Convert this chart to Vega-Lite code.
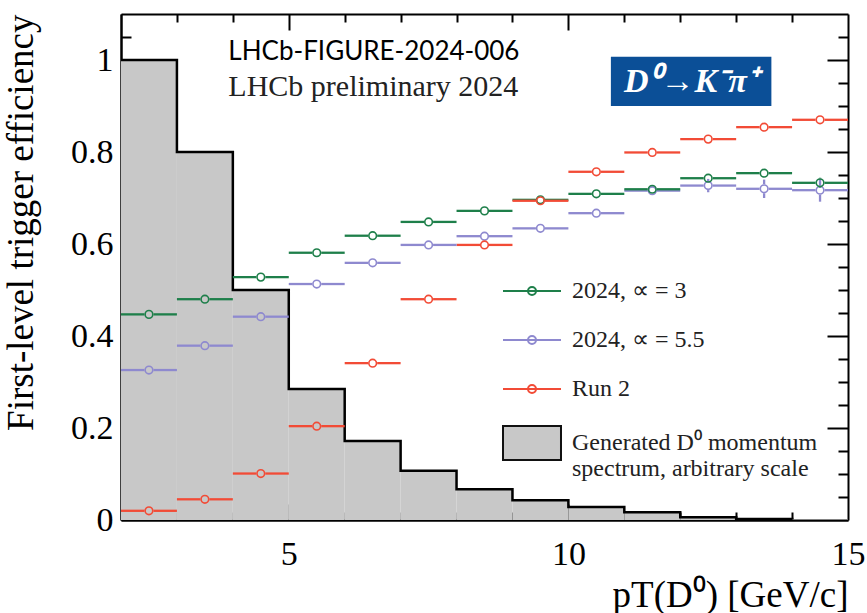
{
  "$schema": "https://vega.github.io/schema/vega-lite/v6.json",
  "width": 727,
  "height": 506,
  "autosize": {"type": "none"},
  "padding": {"left": 121, "top": 14, "right": 19, "bottom": 93},
  "background": "white",
  "config": {
    "view": {"stroke": null},
    "axis": {
      "zindex": 1,
      "domain": true,
      "domainColor": "black",
      "domainWidth": 2,
      "grid": false,
      "tickColor": "black",
      "tickWidth": 2,
      "labelFont": "Liberation Serif",
      "labelFontSize": 34,
      "labelColor": "black",
      "titleFont": "Liberation Serif",
      "titleFontSize": 37,
      "titleFontWeight": "normal",
      "titleColor": "black",
      "labelFlush": false
    },
    "legend": {
      "orient": "none",
      "legendX": 395,
      "legendY": 261,
      "direction": "vertical",
      "symbolSize": 900,
      "symbolStrokeWidth": 2,
      "labelOffset": 24,
      "labelFont": "Liberation Serif",
      "labelFontSize": 24,
      "labelColor": "#222222",
      "labelLimit": 500,
      "rowPadding": 21,
      "padding": 0
    }
  },
  "datasets": {
    "hist": [
      {"lo": 2, "hi": 3, "n": 1.0},
      {"lo": 3, "hi": 4, "n": 0.8},
      {"lo": 4, "hi": 5, "n": 0.5},
      {"lo": 5, "hi": 6, "n": 0.285},
      {"lo": 6, "hi": 7, "n": 0.172},
      {"lo": 7, "hi": 8, "n": 0.107},
      {"lo": 8, "hi": 9, "n": 0.067},
      {"lo": 9, "hi": 10, "n": 0.043},
      {"lo": 10, "hi": 11, "n": 0.028},
      {"lo": 11, "hi": 12, "n": 0.017},
      {"lo": 12, "hi": 13, "n": 0.006},
      {"lo": 13, "hi": 14, "n": 0.002},
      {"lo": 14, "hi": 15, "n": 0.001}
    ],
    "eff": [
      {"s": "2024, ∝ = 5.5", "lo": 2, "hi": 3, "x": 2.5, "eff": 0.326},
      {"s": "2024, ∝ = 5.5", "lo": 3, "hi": 4, "x": 3.5, "eff": 0.379},
      {"s": "2024, ∝ = 5.5", "lo": 4, "hi": 5, "x": 4.5, "eff": 0.442},
      {"s": "2024, ∝ = 5.5", "lo": 5, "hi": 6, "x": 5.5, "eff": 0.513},
      {"s": "2024, ∝ = 5.5", "lo": 6, "hi": 7, "x": 6.5, "eff": 0.559},
      {"s": "2024, ∝ = 5.5", "lo": 7, "hi": 8, "x": 7.5, "eff": 0.598},
      {"s": "2024, ∝ = 5.5", "lo": 8, "hi": 9, "x": 8.5, "eff": 0.617},
      {"s": "2024, ∝ = 5.5", "lo": 9, "hi": 10, "x": 9.5, "eff": 0.634},
      {"s": "2024, ∝ = 5.5", "lo": 10, "hi": 11, "x": 10.5, "eff": 0.667},
      {"s": "2024, ∝ = 5.5", "lo": 11, "hi": 12, "x": 11.5, "eff": 0.716},
      {"s": "2024, ∝ = 5.5", "lo": 12, "hi": 13, "x": 12.5, "eff": 0.727},
      {"s": "2024, ∝ = 5.5", "lo": 13, "hi": 14, "x": 13.5, "eff": 0.72},
      {"s": "2024, ∝ = 5.5", "lo": 14, "hi": 15, "x": 14.5, "eff": 0.717},
      {"s": "2024, ∝ = 3", "lo": 2, "hi": 3, "x": 2.5, "eff": 0.447},
      {"s": "2024, ∝ = 3", "lo": 3, "hi": 4, "x": 3.5, "eff": 0.48},
      {"s": "2024, ∝ = 3", "lo": 4, "hi": 5, "x": 4.5, "eff": 0.528},
      {"s": "2024, ∝ = 3", "lo": 5, "hi": 6, "x": 5.5, "eff": 0.581},
      {"s": "2024, ∝ = 3", "lo": 6, "hi": 7, "x": 6.5, "eff": 0.618},
      {"s": "2024, ∝ = 3", "lo": 7, "hi": 8, "x": 7.5, "eff": 0.648},
      {"s": "2024, ∝ = 3", "lo": 8, "hi": 9, "x": 8.5, "eff": 0.672},
      {"s": "2024, ∝ = 3", "lo": 9, "hi": 10, "x": 9.5, "eff": 0.696},
      {"s": "2024, ∝ = 3", "lo": 10, "hi": 11, "x": 10.5, "eff": 0.709},
      {"s": "2024, ∝ = 3", "lo": 11, "hi": 12, "x": 11.5, "eff": 0.719},
      {"s": "2024, ∝ = 3", "lo": 12, "hi": 13, "x": 12.5, "eff": 0.743},
      {"s": "2024, ∝ = 3", "lo": 13, "hi": 14, "x": 13.5, "eff": 0.754},
      {"s": "2024, ∝ = 3", "lo": 14, "hi": 15, "x": 14.5, "eff": 0.733},
      {"s": "Run 2", "lo": 2, "hi": 3, "x": 2.5, "eff": 0.02},
      {"s": "Run 2", "lo": 3, "hi": 4, "x": 3.5, "eff": 0.045},
      {"s": "Run 2", "lo": 4, "hi": 5, "x": 4.5, "eff": 0.101},
      {"s": "Run 2", "lo": 5, "hi": 6, "x": 5.5, "eff": 0.204},
      {"s": "Run 2", "lo": 6, "hi": 7, "x": 6.5, "eff": 0.341},
      {"s": "Run 2", "lo": 7, "hi": 8, "x": 7.5, "eff": 0.48},
      {"s": "Run 2", "lo": 8, "hi": 9, "x": 8.5, "eff": 0.598},
      {"s": "Run 2", "lo": 9, "hi": 10, "x": 9.5, "eff": 0.694},
      {"s": "Run 2", "lo": 10, "hi": 11, "x": 10.5, "eff": 0.757},
      {"s": "Run 2", "lo": 11, "hi": 12, "x": 11.5, "eff": 0.799},
      {"s": "Run 2", "lo": 12, "hi": 13, "x": 12.5, "eff": 0.828},
      {"s": "Run 2", "lo": 13, "hi": 14, "x": 13.5, "eff": 0.854},
      {"s": "Run 2", "lo": 14, "hi": 15, "x": 14.5, "eff": 0.87}
    ],
    "errs": [
      {"s": "2024, ∝ = 5.5", "x": 12.5, "eff": 0.727, "elo": 0.7125, "ehi": 0.7415},
      {"s": "2024, ∝ = 5.5", "x": 13.5, "eff": 0.72, "elo": 0.7, "ehi": 0.74},
      {"s": "2024, ∝ = 5.5", "x": 14.5, "eff": 0.717, "elo": 0.692, "ehi": 0.742},
      {"s": "2024, ∝ = 3", "x": 14.5, "eff": 0.733, "elo": 0.722, "ehi": 0.744}
    ]
  },
  "resolve": {"axis": {"x": "independent", "y": "independent"}},
  "layer": [
    {
      "data": {"name": "hist"},
      "mark": {"type": "rect", "fill": "#c8c8c8", "stroke": null},
      "encoding": {
        "x": {
          "field": "lo", "type": "quantitative",
          "scale": {"domain": [2, 15], "nice": false, "zero": false},
          "axis": {
            "orient": "bottom",
            "values": [5, 10, 15],
            "ticks": false,
            "labelPadding": 17,
            "format": "~g",
            "title": "pT(D⁰) [GeV/c]",
            "titleAnchor": "end",
            "titlePadding": 6
          }
        },
        "x2": {"field": "hi"},
        "y": {
          "field": "n", "type": "quantitative",
          "scale": {"domain": [0, 1.1], "nice": false},
          "axis": {
            "orient": "left",
            "values": [0, 0.2, 0.4, 0.6, 0.8, 1],
            "ticks": false,
            "labelPadding": 8,
            "format": "~g",
            "title": "First-level trigger efficiency",
            "titleAnchor": "end",
            "titlePadding": 30
          }
        },
        "y2": {"datum": 0}
      }
    },
    {
      "data": {"name": "hist"},
      "mark": {"type": "line", "interpolate": "step-after", "color": "black", "strokeWidth": 2.5},
      "encoding": {
        "x": {
          "field": "lo", "type": "quantitative",
          "axis": {
            "orient": "bottom",
            "values": [3, 4, 5, 6, 7, 8, 9, 10, 11, 12, 13, 14],
            "tickSize": {"condition": {"test": "datum.value % 5 === 0", "value": -16}, "value": -8},
            "labels": false,
            "title": null
          }
        },
        "y": {
          "field": "n", "type": "quantitative",
          "axis": {
            "orient": "left",
            "values": [0.05, 0.1, 0.15, 0.2, 0.25, 0.3, 0.35, 0.4, 0.45, 0.5, 0.55, 0.6, 0.65, 0.7, 0.75, 0.8, 0.85, 0.9, 0.95, 1, 1.05],
            "tickSize": {"condition": {"test": "abs(datum.value * 5 - round(datum.value * 5)) < 0.000001", "value": -21}, "value": -10},
            "labels": false,
            "title": null
          }
        }
      }
    },
    {
      "data": {"name": "eff"},
      "mark": {"type": "rule", "strokeWidth": 2.3, "x2Offset": -4.5},
      "encoding": {
        "x": {
          "field": "lo", "type": "quantitative",
          "axis": {
            "orient": "top",
            "values": [3, 4, 5, 6, 7, 8, 9, 10, 11, 12, 13, 14],
            "tickSize": {"condition": {"test": "datum.value % 5 === 0", "value": -16}, "value": -8},
            "labels": false,
            "title": null
          }
        },
        "x2": {"field": "x"},
        "y": {
          "field": "eff", "type": "quantitative",
          "axis": {
            "orient": "right",
            "values": [0.05, 0.1, 0.15, 0.2, 0.25, 0.3, 0.35, 0.4, 0.45, 0.5, 0.55, 0.6, 0.65, 0.7, 0.75, 0.8, 0.85, 0.9, 0.95, 1, 1.05],
            "tickSize": {"condition": {"test": "abs(datum.value * 5 - round(datum.value * 5)) < 0.000001", "value": -21}, "value": -10},
            "labels": false,
            "title": null
          }
        },
        "color": {
          "field": "s", "type": "nominal",
          "scale": {
            "domain": ["2024, ∝ = 3", "2024, ∝ = 5.5", "Run 2", "Generated D⁰ momentum spectrum, arbitrary scale"],
            "range": ["#1e7f4a", "#8e89cf", "#f24b36", "#111111"]
          },
          "legend": {
            "title": null,
            "labelExpr": "indexof(datum.label, 'Generated') >= 0 ? ['Generated D⁰ momentum', 'spectrum, arbitrary scale'] : datum.label",
            "encode": {
              "symbols": {
                "update": {
                  "shape": {"signal": "indexof(datum.value, 'Generated') >= 0 ? 'M-1.933,-1.133L1.933,-1.133L1.933,1.133L-1.933,1.133Z' : 'M-1.933,0L1.933,0M-0.267,0C-0.267,-0.147,-0.147,-0.267,0,-0.267C0.147,-0.267,0.267,-0.147,0.267,0C0.267,0.147,0.147,0.267,0,0.267C-0.147,0.267,-0.267,0.147,-0.267,0Z'"},
                  "fill": {"signal": "indexof(datum.value, 'Generated') >= 0 ? '#c8c8c8' : 'transparent'"},
                  "stroke": {"signal": "scale('color', datum.value)"},
                  "strokeWidth": {"value": 2},
                  "opacity": {"value": 1}
                }
              }
            }
          }
        }
      }
    },
    {
      "data": {"name": "eff"},
      "mark": {"type": "rule", "strokeWidth": 2.3, "xOffset": 4.5},
      "encoding": {
        "x": {"field": "x", "type": "quantitative", "axis": null},
        "x2": {"field": "hi"},
        "y": {"field": "eff", "type": "quantitative", "axis": null},
        "color": {"field": "s", "type": "nominal"}
      }
    },
    {
      "data": {"name": "errs"},
      "mark": {"type": "rule", "strokeWidth": 2.3, "y2Offset": 4.5},
      "encoding": {
        "x": {"field": "x", "type": "quantitative", "axis": null},
        "y": {"field": "elo", "type": "quantitative", "axis": null},
        "y2": {"field": "eff"},
        "color": {"field": "s", "type": "nominal"}
      }
    },
    {
      "data": {"name": "errs"},
      "mark": {"type": "rule", "strokeWidth": 2.3, "yOffset": -4.5},
      "encoding": {
        "x": {"field": "x", "type": "quantitative", "axis": null},
        "y": {"field": "eff", "type": "quantitative", "axis": null},
        "y2": {"field": "ehi"},
        "color": {"field": "s", "type": "nominal"}
      }
    },
    {
      "data": {"name": "eff"},
      "mark": {"type": "point", "shape": "circle", "filled": false, "size": 58, "strokeWidth": 1.6, "opacity": 1},
      "encoding": {
        "x": {"field": "x", "type": "quantitative", "axis": null},
        "y": {"field": "eff", "type": "quantitative", "axis": null},
        "color": {"field": "s", "type": "nominal"}
      }
    },
    {
      "data": {"values": [{"label": "LHCb-FIGURE-2024-006"}]},
      "mark": {"type": "text", "font": "Lato", "fontSize": 26, "align": "left", "baseline": "alphabetic", "color": "black"},
      "encoding": {
        "x": {"datum": 3.92, "type": "quantitative", "axis": null},
        "y": {"datum": 1.0, "type": "quantitative", "axis": null},
        "text": {"field": "label"}
      }
    },
    {
      "data": {"values": [{"label": "LHCb preliminary 2024"}]},
      "mark": {"type": "text", "font": "Liberation Serif", "fontSize": 30, "align": "left", "baseline": "alphabetic", "color": "#222222"},
      "encoding": {
        "x": {"datum": 3.92, "type": "quantitative", "axis": null},
        "y": {"datum": 0.922, "type": "quantitative", "axis": null},
        "text": {"field": "label"}
      }
    },
    {
      "data": {"values": [{"label": "D⁰→K⁻π⁺"}]},
      "mark": {"type": "rect", "color": "#0b4f97"},
      "encoding": {
        "x": {"datum": 10.76, "type": "quantitative", "axis": null},
        "x2": {"datum": 13.63},
        "y": {"datum": 0.9, "type": "quantitative", "axis": null},
        "y2": {"datum": 1.007}
      }
    },
    {
      "data": {"values": [{"label": "D⁰→K⁻π⁺"}]},
      "mark": {"type": "text", "font": "Liberation Serif", "fontSize": 34, "fontStyle": "italic", "fontWeight": "bold", "align": "center", "baseline": "middle", "color": "white"},
      "encoding": {
        "x": {"datum": 12.19, "type": "quantitative", "axis": null},
        "y": {"datum": 0.952, "type": "quantitative", "axis": null},
        "text": {"field": "label"}
      }
    }
  ]
}
